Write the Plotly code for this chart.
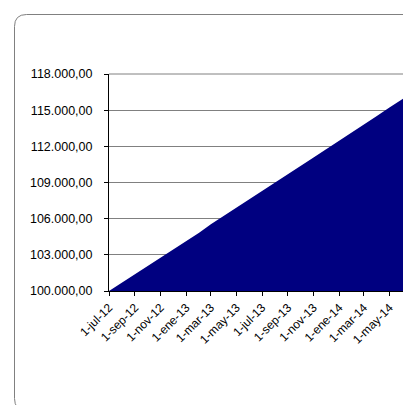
import plotly.graph_objects as go

dates = ["2012-07-01", "2012-08-01", "2012-09-01", "2012-10-01", "2012-11-01", "2012-12-01",
         "2013-01-01", "2013-02-01", "2013-03-01", "2013-04-01", "2013-05-01", "2013-06-01",
         "2013-07-01", "2013-08-01", "2013-09-01", "2013-10-01", "2013-11-01", "2013-12-01",
         "2014-01-01", "2014-02-01", "2014-03-01", "2014-04-01", "2014-05-01", "2014-06-01",
         "2014-07-01"]
values = [100000, 100692, 101383, 102075, 102767, 103458, 104150, 104842, 105533, 106225,
          106917, 107608, 108300, 108992, 109683, 110375, 111067, 111758, 112450, 113142,
          113833, 114525, 115217, 115908, 116600]
tick_dates = ["2012-07-01", "2012-09-01", "2012-11-01", "2013-01-01", "2013-03-01", "2013-05-01",
              "2013-07-01", "2013-09-01", "2013-11-01", "2014-01-01", "2014-03-01", "2014-05-01"]
tick_labels = ["1-jul-12", "1-sep-12", "1-nov-12", "1-ene-13", "1-mar-13", "1-may-13",
               "1-jul-13", "1-sep-13", "1-nov-13", "1-ene-14", "1-mar-14", "1-may-14"]

W, H = 411, 405
ML, MR, MT, MB = 101, 4, 66, 122
PW, PH = W - ML - MR, H - MT - MB


def px(x):
    return (x - ML) / PW


def py(y):
    return (H - MB - y) / PH


def frame_path(x0, y0, x1, y1, r):
    pts = [
        f"M{px(x0 + r)},{py(y0)}",
        f"L{px(x1 - r)},{py(y0)}",
        f"Q{px(x1)},{py(y0)} {px(x1)},{py(y0 + r)}",
        f"L{px(x1)},{py(y1 - r)}",
        f"Q{px(x1)},{py(y1)} {px(x1 - r)},{py(y1)}",
        f"L{px(x0 + r)},{py(y1)}",
        f"Q{px(x0)},{py(y1)} {px(x0)},{py(y1 - r)}",
        f"L{px(x0)},{py(y0 + r)}",
        f"Q{px(x0)},{py(y0)} {px(x0 + r)},{py(y0)}",
        "Z",
    ]
    return " ".join(pts)


fig = go.Figure()
fig.add_trace(go.Scatter(
    x=dates, y=values, mode="lines", fill="tozeroy",
    fillcolor="#000080", line=dict(color="#000080", width=0),
    hoverinfo="skip", showlegend=False,
))

fig.update_layout(
    width=W, height=H,
    margin=dict(l=ML, r=MR, t=MT, b=MB),
    paper_bgcolor="white", plot_bgcolor="white",
    separators=",.",
    font=dict(family="Liberation Sans, Arial, sans-serif", size=12, color="black"),
    showlegend=False,
    xaxis=dict(
        type="date", range=["2012-07-01", "2014-07-01"],
        tickmode="array", tickvals=tick_dates, ticktext=tick_labels,
        tickangle=-45, tickfont=dict(size=12),
        ticks="outside", ticklen=4, tickcolor="black",
        showline=True, linecolor="black", linewidth=1,
        showgrid=False, zeroline=False,
    ),
    yaxis=dict(
        range=[100000, 118000], dtick=3000, tick0=100000,
        tickformat=",.2f", tickfont=dict(size=12.5),
        ticks="outside", ticklen=4, tickcolor="black",
        showline=True, linecolor="black", linewidth=1,
        showgrid=True, gridcolor="#808080", gridwidth=1,
        zeroline=False, ticklabelstandoff=9,
    ),
    shapes=[
        dict(type="line", xref="paper", yref="paper", x0=0, x1=1, y0=1, y1=1,
             line=dict(color="#808080", width=1), layer="above"),
        dict(type="line", xref="paper", yref="paper", x0=1, x1=1, y0=0, y1=1,
             line=dict(color="#808080", width=1), layer="above"),
        dict(type="path", xref="paper", yref="paper",
             path=frame_path(6.5, 6.5, 420, 402.5, 12),
             line=dict(color="#808080", width=1), layer="below"),
    ],
)

fig.write_html("out.html")
